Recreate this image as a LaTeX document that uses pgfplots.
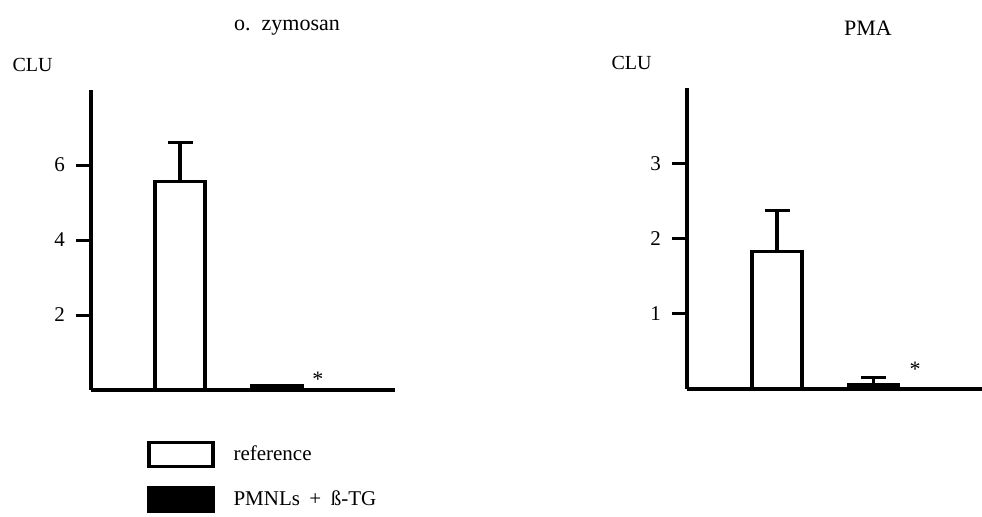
\documentclass[border=0pt]{standalone}
\usepackage{pgfplots}
\pgfplotsset{compat=1.18}
\usepackage{fontspec}
\setmainfont{Liberation Serif}
\begin{document}
\begin{tikzpicture}[font=\fontsize{10}{12}\selectfont]
\useasboundingbox (0,0) rectangle (491pt,258pt);
\pgfplotsset{
  panel/.style={
    scale only axis,
    axis x line*=bottom, axis y line*=left,
    axis line style={line width=1.6pt, -},
    xtick=\empty,
    tick align=outside,
    major tick length=7.5pt,
    ytick style={line width=1.5pt, black},
    yticklabel style={xshift=-2pt, font=\fontsize{10.5}{12}\selectfont},
    /pgf/number format/assume math mode=true,
    ymin=0,
    ybar, bar width=25pt, bar shift=0pt,
    clip=false,
  },
  errb/.style={
    error bars/.cd, y dir=plus, y explicit,
    error mark=|,
    error mark options={line width=1.6pt, mark size=6.25pt, black},
    error bar style={line width=1.6pt, black},
  },
}
% Left panel: o. zymosan
\begin{axis}[panel, at={(45.5pt,63pt)}, anchor=south west,
  width=152pt, height=150pt,
  xmin=-0.918, xmax=2.216, ymax=8, ytick={2,4,6},
  legend image code/.code={\draw[#1, line width=1.6pt] (0pt,-6pt) rectangle (32pt,6pt);},
  legend style={at={(axis description cs:0.184,-0.167)}, anchor=north west,
    draw=none, fill=none, inner sep=0pt, row sep=9pt, column sep=9.5pt,
    nodes={inner sep=0pt}, font=\fontsize{10.5}{12}\selectfont},
  legend cell align=left,
]
\addplot[draw=black, fill=white, line width=1.6pt, errb] coordinates {(0,5.55) +- (0,1.05)};
\addlegendentry{reference}
\addplot[draw=black, fill=black, line width=1.6pt] coordinates {(1,0.13)};
\addlegendentry{PMNLs\hspace{0.45em}+\hspace{0.45em}ß-TG}
\node[anchor=base, font=\fontsize{11}{12}\selectfont] at (axis cs:1.42,0.1) {*};
\end{axis}
% Right panel: PMA
\begin{axis}[panel, at={(343.5pt,63.5pt)}, anchor=south west,
  width=147.5pt, height=150.5pt,
  xmin=-0.933, xmax=2.124, ymax=4, ytick={1,2,3},
]
\addplot[draw=black, fill=white, line width=1.6pt, errb] coordinates {(0,1.83) +- (0,0.54)};
\addplot[draw=black, fill=black, line width=1.6pt, errb] coordinates {(1,0.06) +- (0,0.09)};
\node[anchor=base, font=\fontsize{11}{12}\selectfont] at (axis cs:1.43,0.16) {*};
\end{axis}
\node at (143.5pt,244pt) {\fontsize{11}{13}\selectfont o.\ \ zymosan};
\node at (434pt,244pt) {\fontsize{11}{13}\selectfont PMA};
\node at (16.25pt,225.5pt) {CLU};
\node at (315.75pt,226.5pt) {CLU};
\end{tikzpicture}
\end{document}
